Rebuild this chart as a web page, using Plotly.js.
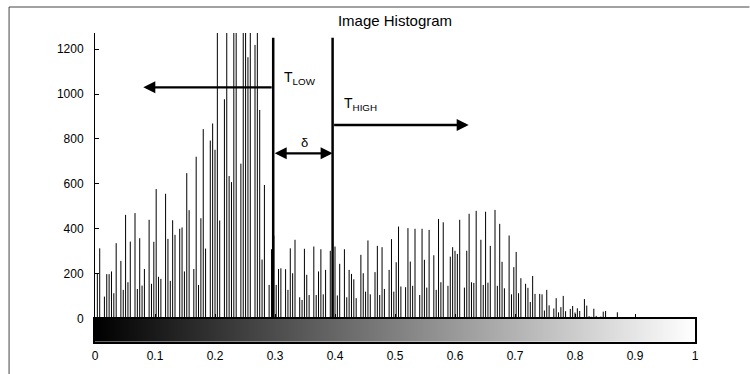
<!DOCTYPE html>
<html><head><meta charset="utf-8">
<script src="https://cdn.plot.ly/plotly-3.0.1.min.js"></script>
<style>html,body{margin:0;padding:0;background:#fff}#chart{width:750px;height:374px}</style>
</head><body><div id="chart"></div>
<script>
// 256-bin grey-level histogram counts
const counts = [
  0, 200, 313, 0, 98, 198, 198, 210, 113, 336,
  0, 257, 128, 462, 162, 343, 0, 470, 132, 358,
  147, 221, 0, 440, 155, 342, 577, 186, 177, 0,
  556, 355, 168, 438, 373, 0, 400, 406, 210, 648,
  483, 0, 221, 721, 150, 447, 844, 312, 0, 793,
  869, 752, 1290, 437, 0, 977, 1400, 635, 608, 1400,
  1400, 0, 690, 1400, 1400, 1164, 1400, 0, 1219, 1400,
  929, 263, 595, 0, 150, 309, 370, 150, 221, 224,
  0, 220, 128, 313, 202, 351, 0, 95, 83, 311,
  195, 105, 0, 321, 105, 210, 309, 108, 217, 0,
  302, 260, 321, 103, 244, 0, 309, 95, 217, 199,
  175, 91, 0, 284, 202, 120, 348, 108, 0, 207,
  324, 105, 318, 132, 0, 217, 354, 120, 251, 410,
  143, 0, 140, 403, 254, 146, 400, 0, 105, 400,
  262, 138, 395, 0, 282, 128, 444, 162, 429, 0,
  146, 276, 318, 302, 288, 440, 0, 138, 302, 467,
  162, 159, 480, 0, 351, 150, 476, 160, 324, 0,
  484, 146, 422, 253, 135, 0, 370, 108, 229, 297,
  113, 180, 0, 155, 137, 74, 190, 110, 0, 110,
  108, 36, 128, 59, 0, 45, 91, 28, 51, 101,
  33, 0, 43, 56, 27, 46, 34, 0, 87, 58,
  11, 8, 44, 12, 0, 9, 31, 34, 5, 7,
  0, 6, 28, 0, 0, 0, 0, 0, 0, 0,
  0, 0, 0, 0, 0, 0, 0, 0, 0, 0,
  0, 0, 0, 0, 0, 0, 0, 0, 0, 0,
  0, 0, 0, 0, 0, 0
];
// bin positions of a 256-level histogram on the 0..1 intensity scale
const binCenters = counts.map((_, i) => i / 255);

const xTickVals = [0, 0.1, 0.2, 0.3, 0.4, 0.5, 0.6, 0.7, 0.8, 0.9, 1];
const xTickText = ["0", "0.1", "0.2", "0.3", "0.4", "0.5", "0.6", "0.7", "0.8", "0.9", "1"];
const yTickVals = [0, 200, 400, 600, 800, 1000, 1200];
const yTickText = ["0", "200", "400", "600", "800", "1000", "1200"];

const thresholdLabels = ["T<sub>LOW</sub>", "T<sub>HIGH</sub>", "δ"];
const tLow = 0.297, tHigh = 0.396;

const sx = [], sy = [];
counts.forEach((c, i) => { sx.push(binCenters[i], binCenters[i], null); sy.push(0, c, null); });

const FONT = 'Liberation Sans, Arial, Helvetica, sans-serif';

const traces = [
  {type: 'heatmap', x: binCenters, y: [0.5], z: [binCenters],
   colorscale: [[0, '#000000'], [1, '#ffffff']], zmin: 0, zmax: 1,
   showscale: false, xaxis: 'x2', yaxis: 'y2', hoverinfo: 'skip'},
  {type: 'scatter', mode: 'lines', x: sx, y: sy, connectgaps: false,
   line: {color: '#000', width: 1}, xaxis: 'x', yaxis: 'y', hoverinfo: 'skip'},
  {type: 'scatter', mode: 'markers', x: [0], y: [0], marker: {opacity: 0},
   xaxis: 'x3', yaxis: 'y', hoverinfo: 'skip'}
];

const cbTop = (342 - 318.6) / 309;

const arrowCommon = {axref: 'x', ayref: 'y', xref: 'x', yref: 'y', text: '', showarrow: true,
  arrowhead: 2, arrowsize: 1, arrowwidth: 2.4, arrowcolor: '#000', standoff: 0, startstandoff: 0};

const layout = {
  width: 750, height: 374,
  margin: {l: 95, r: 54.5, t: 33, b: 32, pad: 0},
  paper_bgcolor: '#fff', plot_bgcolor: 'rgba(0,0,0,0)',
  showlegend: false,
  font: {family: FONT, size: 12, color: '#000'},
  title: {text: 'Image Histogram', font: {family: FONT, size: 15, color: '#000'},
          xref: 'container', yref: 'container', x: 395 / 750, xanchor: 'center',
          y: 1 - 21 / 374, yanchor: 'middle'},
  xaxis: {domain: [0, 1], range: [0, 1], anchor: 'y', showline: true, linewidth: 2, linecolor: '#000',
          ticks: 'outside', ticklen: 4, tickwidth: 1, tickcolor: '#000', tickvals: xTickVals,
          showticklabels: false, showgrid: false, zeroline: false, fixedrange: true},
  xaxis3: {overlaying: 'x', anchor: 'y', range: [0, 1], ticks: 'inside', ticklen: 5, tickwidth: 1,
           tickcolor: '#000', tickvals: xTickVals, showticklabels: false, showline: false,
           showgrid: false, zeroline: false, fixedrange: true},
  xaxis2: {domain: [0, 1], range: [0, 1], anchor: 'y2', showline: true, mirror: true, linewidth: 2,
           linecolor: '#000', ticks: '', tickvals: xTickVals, ticktext: xTickText,
           tickfont: {family: FONT, size: 12, color: '#000'}, ticklabelstandoff: 2,
           showgrid: false, zeroline: false, fixedrange: true},
  yaxis: {domain: [cbTop, 1], range: [0, 1272], anchor: 'x', showline: true, linewidth: 1,
          linecolor: '#000', ticks: 'inside', ticklen: 4, tickwidth: 1, tickcolor: '#000',
          tickvals: yTickVals, ticktext: yTickText, tickfont: {family: FONT, size: 12, color: '#000'},
          ticklabelstandoff: 8, showgrid: false, zeroline: false, fixedrange: true},
  yaxis2: {domain: [0, cbTop], range: [0, 1], anchor: 'x2', showline: true, mirror: true, linewidth: 2,
           linecolor: '#000', ticks: '', showticklabels: false, showgrid: false, zeroline: false,
           fixedrange: true},
  shapes: [
    {type: 'line', xref: 'x', yref: 'y', x0: tLow, x1: tLow, y0: 0, y1: 1251, line: {color: '#000', width: 2.5}},
    {type: 'line', xref: 'x', yref: 'y', x0: tHigh, x1: tHigh, y0: 0, y1: 1251, line: {color: '#000', width: 2.5}},
    {type: 'line', xref: 'paper', yref: 'paper', x0: (9 - 95) / 600.5, x1: (750 - 95) / 600.5,
     y0: (342 - 7) / 309, y1: (342 - 7) / 309, line: {color: '#444', width: 1}},
    {type: 'line', xref: 'paper', yref: 'paper', x0: (9 - 95) / 600.5, x1: (9 - 95) / 600.5,
     y0: (342 - 7) / 309, y1: (342 - 376) / 309, line: {color: '#444', width: 1}}
  ],
  annotations: [
    Object.assign({}, arrowCommon, {x: 0.0805, y: 1030, ax: tLow, ay: 1030}),
    Object.assign({}, arrowCommon, {x: 0.6228, y: 862, ax: tHigh, ay: 862}),
    Object.assign({}, arrowCommon, {x: tHigh, y: 736, ax: tLow, ay: 736, arrowside: 'end+start', startarrowhead: 2}),
    {xref: 'x', yref: 'y', x: 0.311, y: 1070, text: thresholdLabels[0], showarrow: false,
     xanchor: 'left', yanchor: 'middle', font: {family: FONT, size: 14, color: '#000'}},
    {xref: 'x', yref: 'y', x: 0.411, y: 955, text: thresholdLabels[1], showarrow: false,
     xanchor: 'left', yanchor: 'middle', font: {family: FONT, size: 14, color: '#000'}},
    {xref: 'x', yref: 'y', x: 0.3497, y: 785, text: thresholdLabels[2], showarrow: false,
     xanchor: 'center', yanchor: 'middle', font: {family: FONT, size: 13, color: '#000'}}
  ]
};

Plotly.newPlot('chart', traces, layout, {staticPlot: true, displayModeBar: false});
</script>
</body></html>
